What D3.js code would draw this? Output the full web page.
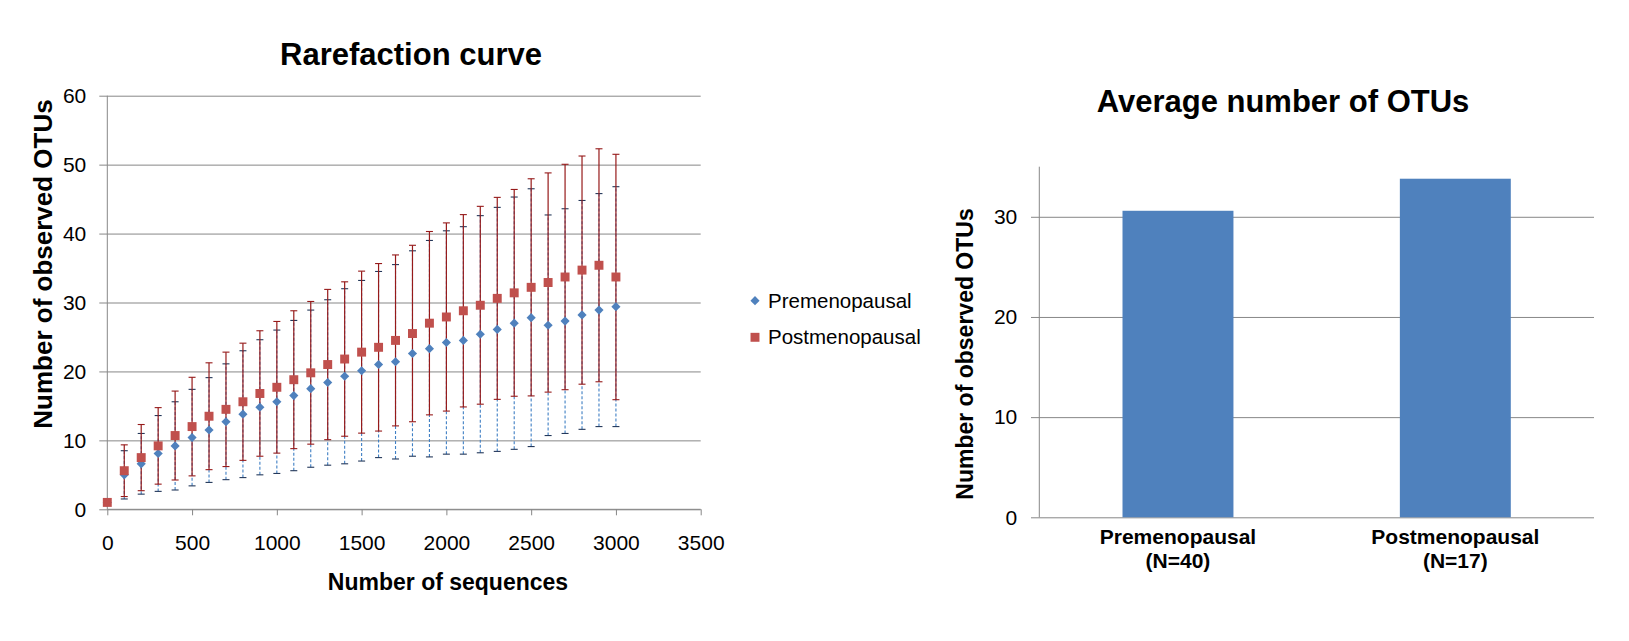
<!DOCTYPE html>
<html><head><meta charset="utf-8">
<script src="https://cdn.jsdelivr.net/npm/d3@7/dist/d3.min.js"></script>
<style>
body{margin:0;background:#fff}
svg{display:block}
text{font-family:"Liberation Sans",Arial,sans-serif;fill:#000}
</style>
</head><body>
<svg id="c" width="1629" height="641"></svg>
<script>
// ---------- data ----------
const sequences = [0,100,200,300,400,500,600,700,800,900,1000,1100,1200,1300,1400,1500,1600,1700,1800,1900,2000,2100,2200,2300,2400,2500,2600,2700,2800,2900,3000];
const preMean  = [1.0,5.0,6.6,8.1,9.2,10.4,11.5,12.7,13.8,14.8,15.6,16.5,17.5,18.4,19.3,20.1,21.0,21.4,22.6,23.3,24.2,24.5,25.4,26.1,27.0,27.8,26.7,27.3,28.2,28.9,29.4];
const preSD    = [0,3.5,4.4,5.5,6.4,7.0,7.6,8.4,9.2,9.8,10.4,10.9,11.4,12.0,12.7,13.1,13.5,14.1,14.9,15.7,16.2,16.5,17.2,17.7,18.3,18.7,16.0,16.3,16.6,16.9,17.4];
const postMean = [1.0,5.6,7.5,9.2,10.7,12.0,13.5,14.5,15.6,16.8,17.7,18.8,19.8,21.0,21.8,22.8,23.5,24.5,25.5,27.0,27.9,28.8,29.6,30.6,31.4,32.2,32.9,33.7,34.7,35.4,33.7];
const postSD   = [0,3.75,4.8,5.55,6.45,7.15,7.75,8.3,8.5,9.1,9.55,10.0,10.35,10.9,11.2,11.75,12.15,12.4,12.8,13.3,13.65,13.95,14.35,14.65,15.0,15.75,15.9,16.35,16.55,16.9,17.8];
const xTickValues  = [0,500,1000,1500,2000,2500,3000,3500];
const yTickValuesL = [0,10,20,30,40,50,60];
const seriesNames  = ["Premenopausal","Postmenopausal"];

const groups       = ["Premenopausal","Postmenopausal"];
const groupN       = ["(N=40)","(N=17)"];
const avgOTUs      = [30.6,33.8];
const yTickValuesR = [0,10,20,30];

// ---------- setup ----------
const svg = d3.select("#c");
const GRID = "#878787";
const BLUE = "#4F81BD", RED = "#C0504D";
const TICKFONT = 21;

// ================= LEFT: rarefaction curve =================
const x = d3.scaleLinear().domain([0,3500]).range([107.3,700.7]);
const y = d3.scaleLinear().domain([0,60]).range([509.3,95.7]);
const gL = svg.append("g");

gL.append("g").attr("transform",`translate(${x(0)},0)`)
  .call(d3.axisRight(y).tickValues(yTickValuesL).tickSize(x(3500)-x(0)).tickFormat(""))
  .call(g=>g.select(".domain").remove())
  .call(g=>g.selectAll("line").attr("stroke",GRID).attr("stroke-width",1));
gL.append("g").attr("transform",`translate(${x(0)},0)`)
  .call(d3.axisLeft(y).tickValues(yTickValuesL).tickSize(8).tickPadding(13))
  .call(g=>g.select(".domain").attr("stroke",GRID).attr("d",`M0,${y(60)}V${y(0)}`))
  .call(g=>g.selectAll("line").attr("stroke",GRID))
  .call(g=>g.selectAll("text").attr("font-size",TICKFONT).attr("font-family","Liberation Sans, Arial, sans-serif"));
gL.append("g").attr("transform",`translate(0,${y(0)})`)
  .call(d3.axisBottom(x).tickValues(xTickValues).tickFormat(d3.format("d")).tickSize(6).tickPadding(20))
  .call(g=>g.select(".domain").attr("stroke",GRID).attr("d",`M${x(0)},0H${x(3500)}`))
  .call(g=>g.selectAll("line").attr("stroke",GRID))
  .call(g=>g.selectAll("text").attr("font-size",TICKFONT).attr("font-family","Liberation Sans, Arial, sans-serif"));

function errorBars(mean, sd, lineColor, capColor, dash, width){
  const idx = sequences.map((s,i)=>i).filter(i=>sd[i]>0);
  const g = gL.append("g");
  g.selectAll("line.v").data(idx).join("line")
    .attr("x1",i=>x(sequences[i])).attr("x2",i=>x(sequences[i]))
    .attr("y1",i=>y(mean[i]-sd[i])).attr("y2",i=>y(mean[i]+sd[i]))
    .attr("stroke",lineColor).attr("stroke-width",width)
    .attr("stroke-dasharray",dash);
  ["lo","hi"].forEach(k=>{
    g.selectAll("line.c"+k).data(idx).join("line")
      .attr("x1",i=>x(sequences[i])-3.5).attr("x2",i=>x(sequences[i])+3.5)
      .attr("y1",i=>y(k==="lo"?mean[i]-sd[i]:mean[i]+sd[i]))
      .attr("y2",i=>y(k==="lo"?mean[i]-sd[i]:mean[i]+sd[i]))
      .attr("stroke",capColor).attr("stroke-width",1.1);
  });
}
errorBars(preMean, preSD, "#3f7fc4", "#24385a", "3,2", 1.1);
errorBars(postMean, postSD, "#961a1a", "#961a1a", null, 1.2);

const diamond = d3.symbol().type(d3.symbolSquare).size(42);
const square  = d3.symbol().type(d3.symbolSquare).size(80);
gL.append("g").selectAll("path").data(sequences).join("path")
  .attr("d",diamond)
  .attr("transform",(s,i)=>`translate(${x(s)},${y(preMean[i])}) rotate(45)`)
  .attr("fill",BLUE);
gL.append("g").selectAll("path").data(sequences).join("path")
  .attr("d",square)
  .attr("transform",(s,i)=>`translate(${x(s)},${y(postMean[i])})`)
  .attr("fill",RED);

gL.append("text").attr("x",411).attr("y",65).attr("text-anchor","middle")
  .attr("font-size",31).attr("font-weight","bold").text("Rarefaction curve");
gL.append("text").attr("x",448).attr("y",590).attr("text-anchor","middle")
  .attr("font-size",23).attr("font-weight","bold").text("Number of sequences");
gL.append("text").attr("transform","translate(52,264) rotate(-90)").attr("text-anchor","middle")
  .attr("font-size",26).attr("font-weight","bold").text("Number of observed OTUs");

const leg = svg.append("g");
leg.append("path").attr("d",diamond).attr("transform","translate(755,300.7) rotate(45)").attr("fill",BLUE);
leg.append("path").attr("d",square).attr("transform","translate(755,337.3)").attr("fill",RED);
leg.append("text").attr("x",768).attr("y",307.5).attr("font-size",20.5).text(seriesNames[0]);
leg.append("text").attr("x",768).attr("y",344).attr("font-size",20.5).text(seriesNames[1]);

// ================= RIGHT: average OTUs =================
const xb = d3.scaleBand().domain(groups).range([1039.3,1594]).paddingInner(0.6).paddingOuter(0.3);
const yb = d3.scaleLinear().domain([0,35]).range([517.3,166.7]);
const gR = svg.append("g");

gR.append("g").attr("transform",`translate(1031,0)`)
  .call(d3.axisRight(yb).tickValues(yTickValuesR).tickSize(1594-1031).tickFormat(""))
  .call(g=>g.select(".domain").remove())
  .call(g=>g.selectAll("line").attr("stroke",GRID));
gR.append("g").attr("transform",`translate(1039.3,0)`)
  .call(d3.axisLeft(yb).tickValues(yTickValuesR).tickSize(0).tickPadding(22))
  .call(g=>g.select(".domain").attr("stroke",GRID).attr("d",`M0,${yb(35)}V${yb(0)}`))
  .call(g=>g.selectAll("text").attr("font-size",TICKFONT).attr("font-family","Liberation Sans, Arial, sans-serif"));

gR.append("g").selectAll("rect").data(groups).join("rect")
  .attr("x",d=>xb(d)).attr("width",xb.bandwidth())
  .attr("y",(d,i)=>yb(avgOTUs[i])).attr("height",(d,i)=>yb(0)-yb(avgOTUs[i]))
  .attr("fill",BLUE);

const cat = gR.append("g").selectAll("text").data(groups).join("text")
  .attr("text-anchor","middle").attr("font-size",21).attr("font-weight","bold");
cat.append("tspan").attr("x",d=>xb(d)+xb.bandwidth()/2).attr("y",544).text(d=>d);
cat.append("tspan").attr("x",d=>xb(d)+xb.bandwidth()/2).attr("y",568).text((d,i)=>groupN[i]);

gR.append("text").attr("x",1283).attr("y",112).attr("text-anchor","middle")
  .attr("font-size",31).attr("font-weight","bold").text("Average number of OTUs");
gR.append("text").attr("transform","translate(973,354) rotate(-90)").attr("text-anchor","middle")
  .attr("font-size",23).attr("font-weight","bold").text("Number of observed OTUs");
</script>
</body></html>
